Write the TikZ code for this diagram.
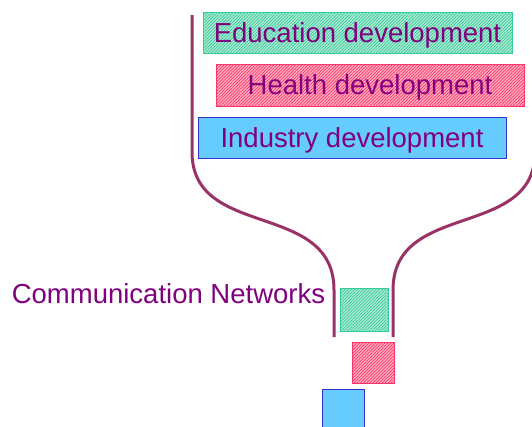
\documentclass[tikz,border=0pt]{standalone}
\usepackage{fontspec}
\setmainfont{Liberation Sans}
\usetikzlibrary{patterns.meta}
\definecolor{txtpurple}{RGB}{128,0,128}
\definecolor{funnel}{RGB}{153,51,102}
\definecolor{hgreen}{RGB}{51,204,153}
\definecolor{lgreen}{RGB}{175,235,212}
\definecolor{hpink}{RGB}{255,51,102}
\definecolor{lpink}{RGB}{255,175,195}
\definecolor{bfill}{RGB}{102,204,255}
\definecolor{bline}{RGB}{51,51,204}
\tikzset{
  lbl/.style={text=txtpurple, font=\fontsize{27.5}{33}\selectfont, inner sep=0pt, text height=19.7pt, text depth=0pt},
  greenbox/.style={draw=hgreen, line width=1pt, fill=lgreen, postaction={pattern={Lines[angle=45,distance=2.2pt,line width=0.7pt]}, pattern color=hgreen}, inner sep=0pt},
  pinkbox/.style={draw=hpink, line width=1pt, fill=lpink, postaction={pattern={Lines[angle=45,distance=2.2pt,line width=0.7pt]}, pattern color=hpink}, inner sep=0pt},
  bluebox/.style={draw=bline, line width=1pt, fill=bfill, inner sep=0pt},
  funnelline/.style={draw=funnel, line width=3pt}
}
\begin{document}
\begin{tikzpicture}[x=1pt,y=-1pt]
\useasboundingbox (0,0) rectangle (532,426);
% funnel
\draw[funnelline] (192,15) -- (192,152) .. controls (192,240) and (334,200) .. (334,290) -- (334,337);
\draw[funnelline] (535,15) -- (535,152) .. controls (535,240) and (393,200) .. (393,290) -- (393,337);
% big boxes
\node[greenbox, minimum width=309pt, minimum height=41pt] (edu) at (357.5,32.5) {};
\node[lbl] (edut) at (edu.center) {Education development};
\node[pinkbox, minimum width=308pt, minimum height=42pt] (hea) at (370,85) {};
\node[lbl] (heat) at (hea.center) {Health development};
\node[bluebox, minimum width=308pt, minimum height=41pt] (ind) at (352,137.5) {};
\node[lbl] (indt) at (ind.center) {Industry development};
% small boxes
\node[greenbox, minimum width=48pt, minimum height=43pt] (sg) at (364,309.5) {};
\node[pinkbox, minimum width=42pt, minimum height=41pt] (sp) at (373,362.5) {};
\node[bluebox, minimum width=42pt, minimum height=41pt] (sb) at (343,409.5) {};
% label
\node[lbl, anchor=base] (comm) at (168.5,303) {Communication Networks};
\end{tikzpicture}
\end{document}
